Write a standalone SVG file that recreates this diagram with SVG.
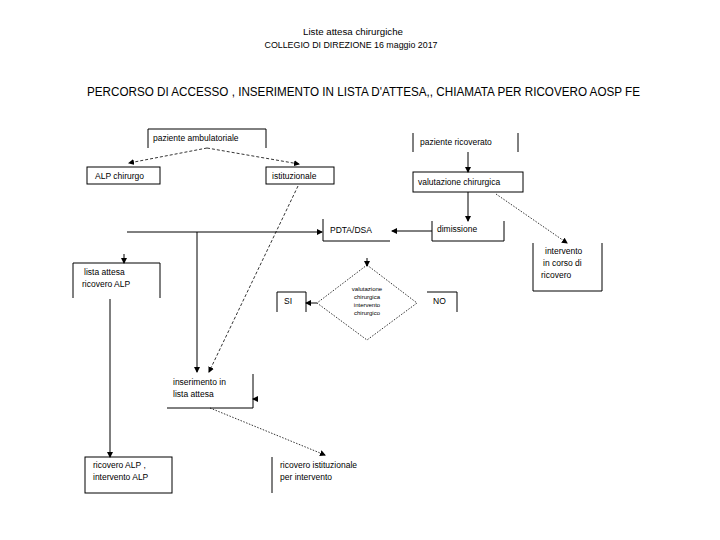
<svg xmlns="http://www.w3.org/2000/svg" width="720" height="540" viewBox="0 0 720 540">
<defs>
<marker id="ah" markerWidth="6" markerHeight="6" refX="5" refY="3" orient="auto" markerUnits="userSpaceOnUse">
<path d="M0,0 L6,3 L0,6 Z" fill="#000"/>
</marker>
<style>
text{font-family:"Liberation Sans",Arial,sans-serif;fill:#000}
.t{font-size:8.5px}
.s{font-size:6px}
.hd{font-size:8.5px}
.b{fill:none;stroke:#000;stroke-width:1}
.c{fill:none;stroke:#000;stroke-width:1}
.d{fill:none;stroke:#000;stroke-width:0.8;stroke-dasharray:3,2}
.o{fill:none;stroke:#000;stroke-width:0.8;stroke-dasharray:1.5,1.5}
</style>
</defs>
<rect width="720" height="540" fill="#fff"/>
<g id="title">
<text class="hd" x="353" y="35" text-anchor="middle" textLength="100" lengthAdjust="spacingAndGlyphs">Liste attesa chirurgiche</text>
<text class="hd" x="351" y="48" text-anchor="middle" textLength="173" lengthAdjust="spacingAndGlyphs">COLLEGIO DI DIREZIONE 16 maggio 2017</text>
<text x="87" y="96" font-size="12" textLength="553" lengthAdjust="spacingAndGlyphs">PERCORSO DI ACCESSO , INSERIMENTO IN LISTA D'ATTESA,, CHIAMATA PER RICOVERO AOSP FE</text>
</g>
<g id="connectors">
<path class="d" d="M207,148 L129,163" marker-end="url(#ah)"/>
<path class="d" d="M207,148 L299,164" marker-end="url(#ah)"/>
<path class="c" d="M468,152 L468,172" marker-end="url(#ah)"/>
<path class="c" d="M468,192 L468,221" marker-end="url(#ah)"/>
<path class="o" d="M496,194 L567,243" marker-end="url(#ah)"/>
<path class="c" d="M432,231 L392,231" marker-end="url(#ah)"/>
<path class="c" d="M127,232 L322,232" marker-end="url(#ah)"/>
<path class="c" d="M197,232 L197,372" marker-end="url(#ah)"/>
<path class="c" d="M124,254 L124,263" marker-end="url(#ah)"/>
<path class="d" d="M298,186 L209,372" marker-end="url(#ah)"/>
<path class="c" d="M110,299 L110,457" marker-end="url(#ah)"/>
<path class="c" d="M317,303 L306,303" marker-end="url(#ah)"/>
<path class="c" d="M367,258 L367,266" marker-end="url(#ah)"/>
<path class="c" d="M258,399 L253,399" marker-end="url(#ah)"/>
<path class="o" d="M210,408 L325,455" marker-end="url(#ah)"/>
</g>
<g id="n_amb">
<path class="b" d="M148,148 L148,129 L266,129 L266,148"/>
<text class="t" x="153" y="141">paziente ambulatoriale</text>
</g>
<g id="n_alp">
<rect class="b" x="87" y="167" width="73" height="17"/>
<text class="t" x="95" y="179">ALP chirurgo</text>
</g>
<g id="n_ist">
<rect class="b" x="266" y="167" width="68" height="17"/>
<text class="t" x="272" y="179">istituzionale</text>
</g>
<g id="n_ric">
<path class="b" d="M413,133 L413,152 M518,133 L518,152"/>
<text class="t" x="420" y="145">paziente ricoverato</text>
</g>
<g id="n_val">
<rect class="b" x="413" y="172" width="110" height="20"/>
<text class="t" x="418" y="185">valutazione chirurgica</text>
</g>
<g id="n_dim">
<path class="b" d="M432,221 L432,241 L504,241 L504,221"/>
<text class="t" x="437" y="232">dimissione</text>
</g>
<g id="n_pdta">
<path class="b" d="M323,219 L323,241 L390,241"/>
<text class="t" x="330" y="233">PDTA/DSA</text>
</g>
<g id="n_int">
<path class="b" d="M533,243 L533,291 L602,291 L602,243"/>
<text class="t" x="545" y="254">intervento</text>
<text class="t" x="543" y="266">in corso di</text>
<text class="t" x="541" y="278">ricovero</text>
</g>
<g id="n_lista">
<path class="b" d="M73,298 L73,263 L160,263 L160,298"/>
<text class="t" x="84" y="275">lista attesa</text>
<text class="t" x="82" y="287">ricovero ALP</text>
</g>
<g id="n_si">
<path class="b" d="M277,312 L277,292 L306,292 L306,312"/>
<text class="t" x="284" y="304">SI</text>
</g>
<g id="n_dec">
<path class="o" d="M367,265 L417,303 L367,340 L317,303 Z"/>
<text class="s" x="367" y="291" text-anchor="middle">valutazione</text>
<text class="s" x="367" y="299" text-anchor="middle">chirurgica</text>
<text class="s" x="367" y="307" text-anchor="middle">intervento</text>
<text class="s" x="367" y="315" text-anchor="middle">chirurgico</text>
</g>
<g id="n_no">
<path class="b" d="M427,292 L457,292 L457,312"/>
<text class="t" x="433" y="304">NO</text>
</g>
<g id="n_ins">
<path class="b" d="M167,408 L253,408 L253,374"/>
<text class="t" x="173" y="385">inserimento in</text>
<text class="t" x="173" y="397">lista attesa</text>
</g>
<g id="n_ralp">
<rect class="b" x="85" y="457" width="87" height="36"/>
<text class="t" x="93" y="468">ricovero ALP ,</text>
<text class="t" x="93" y="480">intervento ALP</text>
</g>
<g id="n_rist">
<path class="b" d="M272,457 L272,493"/>
<text class="t" x="280" y="468">ricovero istituzionale</text>
<text class="t" x="280" y="480">per intervento</text>
</g>
</svg>
